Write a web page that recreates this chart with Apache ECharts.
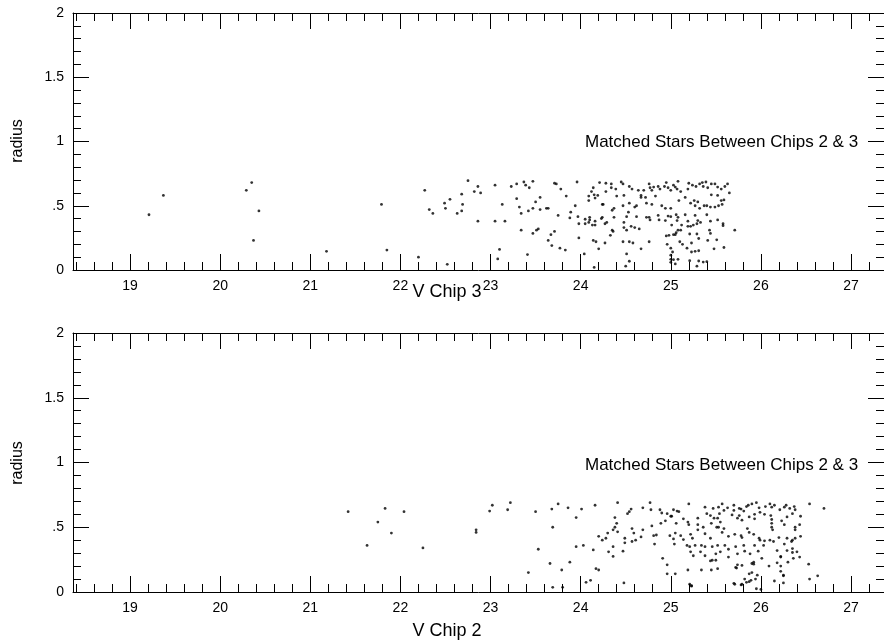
<!DOCTYPE html>
<html><head><meta charset="utf-8">
<script src="https://cdn.jsdelivr.net/npm/echarts@6/dist/echarts.min.js"></script>
<style>html,body{margin:0;padding:0;background:#fff;}#c{width:884px;height:641px;}</style>
</head><body><div id="c"></div>
<script>
// ---- data: [V magnitude, radius] ----
const chip3Stars = [
[19.21,0.43],[19.37,0.58],[20.29,0.62],[20.35,0.68],[20.43,0.46],[20.37,0.23],
[21.79,0.51],[21.18,0.145],[21.85,0.155],[22.20,0.10],[22.52,0.044],
[22.27,0.62],[22.32,0.47],[22.36,0.44],[22.49,0.52],[22.50,0.48],[22.55,0.55],[22.63,0.44],[22.68,0.59],[22.68,0.46],[22.69,0.51],[22.75,0.695],[22.82,0.61],[22.86,0.65],[22.89,0.60],[22.86,0.38],
[23.05,0.66],[23.05,0.38],[23.16,0.38],[23.13,0.51],[23.10,0.16],[23.08,0.086],[23.41,0.12],
[23.23,0.65],[23.29,0.67],[23.37,0.685],[23.39,0.66],[23.43,0.64],[23.47,0.69],[23.29,0.555],[23.32,0.49],[23.34,0.44],[23.42,0.46],[23.47,0.48],[23.50,0.53],[23.55,0.565],[23.55,0.47],[23.62,0.48],[23.64,0.48],
[23.34,0.31],[23.47,0.285],[23.51,0.31],[23.53,0.32],
[23.71,0.675],[23.73,0.67],[23.78,0.63],[23.84,0.575],[23.75,0.425],[23.89,0.45],[23.88,0.405],
[23.67,0.275],[23.71,0.30],[23.64,0.23],[23.68,0.19],[23.77,0.17],[23.83,0.155],
[23.96,0.685],[24.14,0.64],[24.12,0.61],[24.09,0.575],[24.15,0.585],[24.16,0.56],[24.19,0.58],[24.09,0.54],[24.21,0.68],[24.25,0.51],[23.94,0.50],[23.97,0.415],[24.05,0.395],[24.10,0.41],[24.10,0.39],[24.09,0.37],[23.98,0.36],[24.16,0.38],[24.05,0.36],[24.13,0.35],[24.16,0.35],[24.23,0.40],[23.98,0.25],[24.14,0.23],[24.17,0.22],[24.20,0.165],[24.15,0.02],[24.04,0.125],
[24.28,0.675],[24.34,0.67],[24.34,0.64],[24.39,0.63],[24.28,0.61],[24.45,0.685],[24.47,0.67],[24.54,0.65],[24.57,0.63],[24.64,0.62],[24.67,0.58],[24.70,0.62],[24.67,0.565],[24.72,0.565],[24.76,0.67],[24.77,0.64],[24.81,0.645],[24.79,0.62],[24.83,0.575],[24.86,0.65],[24.88,0.63],[24.93,0.65],[24.95,0.68],[24.97,0.64],[25.00,0.62],[25.03,0.66],[25.05,0.645],[25.08,0.69],[25.07,0.63],[25.11,0.61],[25.20,0.675],[25.24,0.66],[25.19,0.63],[25.28,0.65],[25.32,0.67],[25.35,0.68],[25.39,0.685],[25.36,0.65],[25.41,0.64],[25.45,0.67],[25.49,0.67],[25.52,0.645],[25.56,0.63],[25.63,0.67],[25.60,0.65],[25.45,0.585],[25.52,0.58],[25.65,0.60],
[24.40,0.575],[24.48,0.58],[24.47,0.50],[24.37,0.48],[24.35,0.465],[24.54,0.52],[24.62,0.50],[24.60,0.49],[24.24,0.51],[24.73,0.52],[24.79,0.51],[24.90,0.50],[24.94,0.48],[25.00,0.48],[25.09,0.54],[25.16,0.565],[25.22,0.52],[25.26,0.54],[25.30,0.53],[25.27,0.50],[25.32,0.48],[25.37,0.50],[25.40,0.50],[25.44,0.49],[25.49,0.49],[25.53,0.50],[25.56,0.54],[25.59,0.545],[25.57,0.51],
[24.24,0.41],[24.29,0.37],[24.37,0.41],[24.53,0.45],[24.51,0.415],[24.62,0.415],[24.73,0.41],[24.76,0.41],[24.77,0.39],[24.86,0.425],[24.87,0.39],[24.94,0.385],[24.97,0.42],[25.00,0.415],[25.06,0.43],[25.08,0.41],[25.07,0.385],[25.16,0.43],[25.19,0.38],[25.27,0.425],[25.30,0.385],[25.33,0.37],[25.40,0.43],[25.44,0.38],[25.52,0.39],[25.58,0.36],[25.58,0.345],
[24.27,0.36],[24.48,0.37],[24.48,0.33],[24.56,0.34],[24.60,0.33],[24.51,0.31],[24.65,0.32],[24.35,0.31],[25.01,0.35],[25.12,0.35],[25.11,0.31],[25.08,0.31],[25.19,0.34],[25.22,0.34],[25.25,0.35],[25.29,0.36],[25.21,0.28],[25.29,0.28],[25.06,0.29],[25.05,0.275],[25.03,0.275],[25.43,0.31],[25.44,0.285],[25.71,0.31],[24.33,0.27],[24.36,0.30],[24.95,0.265],[24.98,0.27],
[24.27,0.21],[24.47,0.22],[24.54,0.22],[24.58,0.21],[24.76,0.22],[24.96,0.20],[25.10,0.22],[25.13,0.20],[25.23,0.21],[25.31,0.245],[25.41,0.23],[25.51,0.235],[24.67,0.165],[25.00,0.17],[25.18,0.17],[25.27,0.145],[25.31,0.15],[25.48,0.165],[25.59,0.175],[24.51,0.125],[25.02,0.14],[25.00,0.115],[25.00,0.083],[25.03,0.08],[25.08,0.083],[25.00,0.06],[25.05,0.047],[24.54,0.068],[24.50,0.03],[25.21,0.072],[25.31,0.07],[25.36,0.062],[25.40,0.065],[25.29,0.03],[25.23,0.14]
];
const chip2Stars = [
[21.42,0.62],[21.63,0.36],[21.75,0.54],[21.83,0.645],[21.90,0.455],[22.04,0.62],[22.25,0.34],[22.84,0.48],[22.84,0.46],[22.99,0.625],[23.02,0.67],[23.19,0.635],[23.22,0.69],[23.42,0.15],[23.50,0.62],[23.53,0.33],[23.66,0.22],[23.69,0.036],[23.68,0.64],[23.75,0.68],[23.69,0.50],[23.79,0.17],[23.80,0.036],[23.88,0.23],[23.86,0.65],
[24.01,0.64],[24.16,0.67],[24.41,0.69],[23.95,0.575],[24.56,0.64],[24.54,0.62],[24.52,0.605],[24.38,0.575],[24.40,0.53],[24.38,0.50],[24.36,0.48],[24.41,0.465],[24.30,0.455],[24.20,0.43],[24.24,0.40],[24.28,0.415],[24.49,0.415],[24.49,0.38],[24.36,0.35],[24.57,0.49],[24.59,0.455],[24.69,0.48],[24.67,0.425],[24.61,0.40],[24.57,0.39],[24.31,0.31],[24.36,0.275],[24.47,0.315],[24.14,0.325],[24.03,0.36],[23.95,0.35],[24.17,0.18],[24.20,0.17],[24.06,0.075],[24.11,0.09],[24.48,0.07],[24.69,0.65],[24.77,0.69],[24.78,0.635],[24.88,0.635],[24.90,0.61],[24.96,0.605],[25.01,0.585],[24.94,0.55],[24.89,0.53],[24.79,0.51],[24.81,0.435],[24.84,0.44],[24.82,0.37],[24.91,0.26],[24.96,0.21],[24.96,0.14],[25.03,0.41],
[25.03,0.635],[25.07,0.625],[25.09,0.62],[25.20,0.68],[25.14,0.565],[25.19,0.54],[25.20,0.52],[25.00,0.585],[25.06,0.53],[25.30,0.57],[25.30,0.52],[25.38,0.655],[25.40,0.605],[25.47,0.645],[25.53,0.655],[25.57,0.68],[25.59,0.63],[25.63,0.65],[25.70,0.67],[25.70,0.63],[25.76,0.645],[25.78,0.64],[25.81,0.625],[25.84,0.66],[25.86,0.67],[25.90,0.68],[25.95,0.69],[25.98,0.65],[25.99,0.615],[26.05,0.66],[26.10,0.68],[26.12,0.655],[26.15,0.67],[26.21,0.635],[26.26,0.655],[26.28,0.67],[26.32,0.645],[26.37,0.66],[26.38,0.635],
[25.54,0.605],[25.44,0.59],[25.48,0.57],[25.52,0.57],[25.55,0.54],[25.45,0.53],[25.68,0.595],[25.74,0.57],[25.76,0.59],[25.79,0.555],[25.87,0.58],[25.93,0.565],[25.93,0.60],[26.04,0.60],[26.11,0.59],[26.12,0.56],[26.12,0.53],[26.12,0.50],[26.13,0.48],[26.23,0.55],[26.26,0.52],[26.29,0.58],[26.35,0.605],[26.38,0.50],[26.38,0.48],
[24.99,0.435],[25.05,0.455],[25.11,0.435],[25.14,0.405],[25.22,0.445],[25.24,0.415],[25.30,0.48],[25.27,0.36],[25.21,0.35],[25.36,0.50],[25.38,0.45],[25.44,0.415],[25.51,0.50],[25.53,0.50],[25.57,0.46],[25.59,0.49],[25.64,0.43],[25.71,0.445],[25.78,0.435],[25.79,0.42],[25.85,0.49],[25.87,0.46],[25.92,0.445],[25.98,0.415],[25.99,0.40],[26.04,0.395],[26.10,0.40],[26.14,0.39],[26.20,0.42],[26.29,0.415],[26.26,0.37],[26.34,0.39],[26.38,0.415],
[25.04,0.37],[25.18,0.36],[25.34,0.36],[25.38,0.35],[25.46,0.35],[25.52,0.36],[25.60,0.36],[25.64,0.33],[25.72,0.35],[25.81,0.36],[25.93,0.36],[26.03,0.36],[25.22,0.31],[25.33,0.31],[25.25,0.28],[25.38,0.28],[25.50,0.295],[25.55,0.31],[25.64,0.27],[25.74,0.295],[25.82,0.315],[25.88,0.295],[25.97,0.315],[26.01,0.26],[26.18,0.32],[26.22,0.275],[26.29,0.32],[26.35,0.305],[26.40,0.31],
[25.46,0.245],[25.50,0.245],[25.74,0.21],[25.79,0.205],[25.90,0.22],[25.92,0.215],[26.09,0.20],[26.18,0.225],[26.22,0.20],[26.36,0.26],[25.19,0.17],[25.34,0.17],[25.52,0.18],[25.72,0.19],[25.90,0.15],[25.96,0.13],[26.25,0.13],[25.05,0.14],[25.21,0.06],[25.23,0.045],[25.71,0.06],[25.78,0.055],[25.84,0.075],[25.87,0.08],[25.94,0.10],[26.00,0.02],[26.15,0.085],[26.25,0.07],
[26.54,0.68],[26.70,0.645],[26.44,0.585],[26.43,0.52],[26.44,0.43],[26.53,0.215],[26.54,0.10],[26.63,0.125],[26.35,0.40],[26.35,0.335],[26.43,0.27],[26.30,0.23],[26.25,0.125],[26.22,0.16],[26.22,0.27],
[25.45,0.17],[25.44,0.24],[25.73,0.185],[25.82,0.10],[25.89,0.09],[25.92,0.23],[25.95,0.025],[25.87,0.14],[25.79,0.06],[25.70,0.067],[25.23,0.05]
];
// ---- axes / ticks ----
const xRange = [18.367, 27.366];
const yRange = [0, 2];
const xMajorTicks = [19,20,21,22,23,24,25,26,27];
const xMinorTicks = [18.4,18.6,18.8,19.2,19.4,19.6,19.8,20.2,20.4,20.6,20.8,21.2,21.4,21.6,21.8,22.2,22.4,22.6,22.8,23.2,23.4,23.6,23.8,24.2,24.4,24.6,24.8,25.2,25.4,25.6,25.8,26.2,26.4,26.6,26.8,27.2];
const yMajorTicks = [0,0.5,1,1.5,2];
const yTickLabels = ['0','.5','1','1.5','2'];
const yMinorTicks = [0.1,0.2,0.3,0.4,0.6,0.7,0.8,0.9,1.1,1.2,1.3,1.4,1.6,1.7,1.8,1.9];
const panelLabel = 'Matched Stars Between Chips 2 & 3';
const xTitles = ['V Chip 3','V Chip 2'];
const yTitle = 'radius';

const FONT = "'Liberation Sans', Arial, Helvetica, sans-serif";
const chart = echarts.init(document.getElementById('c'), null, {renderer:'canvas'});

const grids = [
  {left:73, right:-7, top:13, height:257},
  {left:73, right:-7, top:333, height:259}
];
function axisCommon(gi, pos, rng, ticks, len, showLine, labels) {
  return {
    type:'value', gridIndex:gi, position:pos, min:rng[0], max:rng[1],
    axisLine:{show:showLine, onZero:false, lineStyle:{color:'#000', width:1}},
    axisTick:{show:true, inside:true, length:len, customValues:ticks, lineStyle:{color:'#000', width:1}},
    axisLabel: labels ? Object.assign({show:true, customValues:ticks, color:'#000', fontFamily:FONT, fontSize:14, margin:9}, labels) : {show:false},
    splitLine:{show:false}, minorTick:{show:false}, minorSplitLine:{show:false}
  };
}
const xAxes = [], yAxes = [];
grids.forEach((g, gi) => {
  xAxes.push(axisCommon(gi, 'bottom', xRange, xMajorTicks, 16, true, {formatter: v => String(Math.round(v))}));
  xAxes.push(axisCommon(gi, 'bottom', xRange, xMinorTicks, 8, false, null));
  xAxes.push(axisCommon(gi, 'top', xRange, xMajorTicks, 16, true, null));
  xAxes.push(axisCommon(gi, 'top', xRange, xMinorTicks, 8, false, null));
  yAxes.push(axisCommon(gi, 'left', yRange, yMajorTicks, 16, true, {formatter: v => yTickLabels[yMajorTicks.indexOf(+v)] ?? String(v)}));
  yAxes.push(axisCommon(gi, 'left', yRange, yMinorTicks, 8, false, null));
  yAxes.push(axisCommon(gi, 'right', yRange, yMajorTicks, 16, true, null));
  yAxes.push(axisCommon(gi, 'right', yRange, yMinorTicks, 8, false, null));
});

const series = [chip3Stars, chip2Stars].map((d, gi) => ({
  type:'scatter', xAxisIndex: gi*4, yAxisIndex: gi*4, data:d,
  symbol:'circle', symbolSize:2.8, itemStyle:{color:'#000'}, silent:true, animation:false
}));

function txt(x, y, s, size, rot, align) {
  return {type:'text', x:x, y:y, rotation:rot||0, silent:true,
    style:{text:s, x:0, y:0, fill:'#000', font: size + 'px ' + FONT, textAlign:align||'center', textVerticalAlign:'middle'}};
}
const graphic = [
  txt(18, 141, yTitle, 16, Math.PI/2),
  txt(18, 463, yTitle, 16, Math.PI/2),
  txt(447, 292, xTitles[0], 18),
  txt(447, 631, xTitles[1], 18),
  txt(585, 142, panelLabel, 17, 0, 'left'),
  txt(585, 465, panelLabel, 17, 0, 'left')
];

chart.setOption({
  animation:false, backgroundColor:'#fff',
  grid: grids, xAxis: xAxes, yAxis: yAxes, series: series, graphic: graphic
});
</script></body></html>
